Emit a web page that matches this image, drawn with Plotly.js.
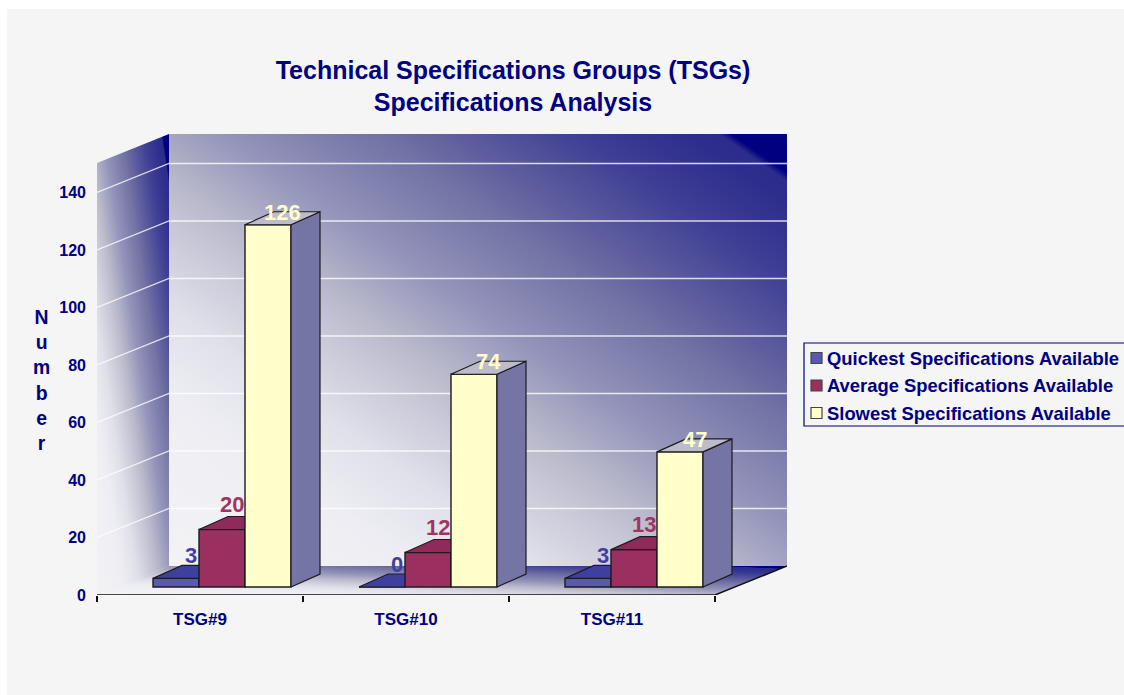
<!DOCTYPE html>
<html><head><meta charset="utf-8">
<script src="https://cdn.plot.ly/plotly-3.0.1.min.js"></script>
<style>html,body{margin:0;padding:0;background:#fff}#chart{width:1124px;height:695px}</style>
</head><body><div id="chart"></div>
<script>
const categories = ['TSG#9', 'TSG#10', 'TSG#11'];
const seriesNames = ['Quickest Specifications Available', 'Average Specifications Available', 'Slowest Specifications Available'];
const quickest = [3, 0, 3];
const average = [20, 12, 13];
const slowest = [126, 74, 47];
const yTicks = [0, 20, 40, 60, 80, 100, 120, 140];
const gridValues = [20, 40, 60, 80, 100, 120, 140];
const seriesValues = [quickest, average, slowest];

const W = 1124, H = 695, FONT = 'Liberation Sans, Arial, sans-serif', NAVY = '#000080';
// frame geometry, in pixels
const X0 = 97, Y0 = 595, CAT = 206, UNIT = 2.875, WALLDX = 72, WALLDY = 29, WALLTOP = 134;
const BACKR = X0 + WALLDX + 3 * CAT;
const xMax = (BACKR - X0) / CAT, yMax = (Y0 - WALLTOP) / UNIT;
const px2x = p => p / CAT, px2y = p => p / UNIT;
// bar geometry
const BARW = 46, BAROFFX = 22, BAROFFY = 8, BARDX = 29, BARDY = 13;
const styles = [
  {front: '#5a5aab', top: '#3f3fa0', side: '#4a4a9c', label: '#3f3fa0', dx: 0, dy: 16},
  {front: '#99305f', top: '#8f2a5b', side: '#7d2550', label: '#a23363', dx: -5, dy: 19},
  {front: '#ffffcc', top: '#bcbccb', side: '#7474a5', label: '#ffffcc', dx: 0, dy: 6}
];

// gradient backdrop
function stops(g) {
  [[0,'#f3f3f6'],[.2,'#ededf3'],[.3,'#e0e0ea'],[.4,'#c6c6d6'],[.45,'#b8b8ca'],[.55,'#9292ba'],[.67,'#7272a4'],
   [.73,'#5e5e9e'],[.83,'#3f3f95'],[.92,'#2d2d8d'],[.945,'#2c2c8c'],[.955,'#000080'],[1,'#000080']]
    .forEach(s => g.addColorStop(s[0], s[1]));
}
function face(ctx, pts) {
  const xs = pts.map(p => p[0]), ys = pts.map(p => p[1]);
  const l = Math.min(...xs), r = Math.max(...xs), t = Math.min(...ys), b = Math.max(...ys);
  const w = r - l, h = b - t, cx = (l + r) / 2, cy = (t + b) / 2, n = Math.hypot(w, h);
  const nx = h / n, ny = -w / n, L = (w / 2 * nx - h / 2 * ny);
  const g = ctx.createLinearGradient(cx - nx * L, cy - ny * L, cx + nx * L, cy + ny * L);
  stops(g);
  ctx.fillStyle = g;
  ctx.beginPath();
  pts.forEach((p, i) => i ? ctx.lineTo(p[0], p[1]) : ctx.moveTo(p[0], p[1]));
  ctx.closePath(); ctx.fill();
}
const cv = document.createElement('canvas'); cv.width = W; cv.height = H;
const c = cv.getContext('2d');
c.fillStyle = '#ffffff'; c.fillRect(0, 0, W, H);
c.fillStyle = '#f5f5f5'; c.fillRect(7, 9, W - 7, H - 9);
const FRONTR = X0 + 3 * CAT, BACKL = X0 + WALLDX, BACKB = Y0 - WALLDY;
face(c, [[BACKL, WALLTOP], [BACKR, WALLTOP], [BACKR, BACKB], [BACKL, BACKB]]);
face(c, [[X0, WALLTOP + WALLDY], [BACKL, WALLTOP], [BACKL, BACKB], [X0, Y0]]);
face(c, [[X0, Y0], [BACKL, BACKB], [BACKR, BACKB], [FRONTR, Y0]]);

const traces = [];
// gridlines on side and back walls
const gx = [], gy = [];
gridValues.forEach(v => {
  gx.push(0, px2x(WALLDX), xMax, null);
  gy.push(v, v + px2y(WALLDY), v + px2y(WALLDY), null);
});
traces.push({type: 'scatter', mode: 'lines', x: gx, y: gy, xaxis: 'x', yaxis: 'y', hoverinfo: 'skip', showlegend: false,
  line: {color: 'rgba(255,255,255,0.8)', width: 1.3}});
// axis baseline and floor edge
traces.push({type: 'scatter', mode: 'lines', x: [0, 3, xMax], y: [0, 0, px2y(WALLDY)], xaxis: 'x', yaxis: 'y', hoverinfo: 'skip', showlegend: false,
  cliponaxis: false, line: {color: '#111', width: 1.5}});

const annotations = [];
seriesValues.forEach((vals, s) => {
  const ax = s === 0 ? 'x' : 'x' + (s + 1), ay = s === 0 ? 'y' : 'y' + (s + 1), st = styles[s];
  const cx = vals.map((v, i) => px2x((i + .5) * CAT + BAROFFX + (s - 1) * BARW));
  const base = px2y(BAROFFY), hw = px2x(BARW / 2), ddx = px2x(BARDX), ddy = px2y(BARDY);
  traces.push({type: 'bar', name: seriesNames[s], x: cx, y: vals, base: vals.map(() => base), width: vals.map(() => px2x(BARW)),
    xaxis: ax, yaxis: ay, showlegend: false, hoverinfo: 'skip',
    marker: {color: st.front, line: {color: '#1c1c1c', width: 1.4}}});
  const tx = [], ty = [], sx = [], sy = [];
  vals.forEach((v, i) => {
    const l = cx[i] - hw, r = cx[i] + hw, top = base + v;
    tx.push(l, r, r + ddx, l + ddx, l, null);
    ty.push(top, top, top + ddy, top + ddy, top, null);
    if (v > 0) {
      sx.push(r, r + ddx, r + ddx, r, r, null);
      sy.push(base, base + ddy, top + ddy, top, base, null);
    }
    annotations.push({x: cx[i] + ddx / 2, y: top + ddy / 2, xref: ax, yref: ay, text: String(v), showarrow: false,
      xshift: st.dx, yshift: st.dy, xanchor: 'center', yanchor: 'middle',
      font: {family: FONT, size: 22, color: st.label, weight: 700}});
  });
  traces.push({type: 'scatter', mode: 'lines', x: sx, y: sy, fill: 'toself', fillcolor: st.side, xaxis: ax, yaxis: ay,
    hoverinfo: 'skip', showlegend: false, line: {color: '#1c1c1c', width: 1.2}});
  traces.push({type: 'scatter', mode: 'lines', x: tx, y: ty, fill: 'toself', fillcolor: st.top, xaxis: ax, yaxis: ay,
    hoverinfo: 'skip', showlegend: false, line: {color: '#1c1c1c', width: 1.2}});
});

const px = p => p / W, py = p => 1 - p / H;
// stacked axis title
annotations.push({xref: 'paper', yref: 'paper', x: px(41), y: py(380), xanchor: 'center', yanchor: 'middle', showarrow: false,
  text: 'N<br>u<br>m<br>b<br>e<br>r', font: {family: FONT, size: 19.4, color: NAVY, weight: 700}});
// legend
const shapes = [{type: 'rect', xref: 'paper', yref: 'paper', x0: px(804), x1: px(1130), y0: py(343), y1: py(426),
  line: {color: NAVY, width: 1.2}, fillcolor: 'rgba(0,0,0,0)'}];
[358, 385.5, 413].forEach((yy, s) => {
  shapes.push({type: 'rect', xref: 'paper', yref: 'paper', x0: px(811), x1: px(822), y0: py(yy - 5.5), y1: py(yy + 5.5),
    line: {color: '#444', width: 1.2}, fillcolor: styles[s].front});
  annotations.push({xref: 'paper', yref: 'paper', x: px(825), y: py(yy), xanchor: 'left', yanchor: 'middle', showarrow: false,
    text: seriesNames[s], font: {family: FONT, size: 18.4, color: NAVY, weight: 700}});
});

const hidden = {visible: false, fixedrange: true};
const layout = {
  width: W, height: H, margin: {l: 0, r: 0, t: 0, b: 0}, paper_bgcolor: '#f5f5f5', plot_bgcolor: 'rgba(0,0,0,0)',
  showlegend: false, barmode: 'overlay', shapes, annotations,
  title: {text: 'Technical Specifications Groups (TSGs)<br>Specifications Analysis', x: 513 / W, xanchor: 'center',
    y: py(78.5), yanchor: 'middle', font: {family: FONT, size: 25, color: NAVY, weight: 700}},
  images: [{source: cv.toDataURL('image/png'), xref: 'paper', yref: 'paper', x: 0, y: 1, sizex: 1, sizey: 1,
    sizing: 'stretch', xanchor: 'left', yanchor: 'top', layer: 'below'}],
  xaxis: {domain: [X0 / W, BACKR / W], range: [0, xMax], showgrid: false, zeroline: false, showline: false, ticks: '',
    tickmode: 'array', tickvals: categories.map((_, i) => i + .5), ticktext: categories, ticklabelstandoff: 12,
    tickfont: {family: FONT, size: 17, color: NAVY, weight: 700},
    minor: {tickmode: 'array', tickvals: [0, 1, 2, 3], ticks: 'outside', ticklen: 6, tickcolor: '#111', tickwidth: 1.4, showgrid: false}},
  yaxis: {domain: [1 - Y0 / H, 1 - WALLTOP / H], range: [0, yMax], showgrid: false, zeroline: false, showline: false, ticks: '',
    tickmode: 'array', tickvals: yTicks, ticklabelstandoff: 10, tickfont: {family: FONT, size: 16, color: NAVY, weight: 700}},
  xaxis2: Object.assign({overlaying: 'x', matches: 'x', anchor: 'y2'}, hidden),
  yaxis2: Object.assign({overlaying: 'y', matches: 'y', anchor: 'x2'}, hidden),
  xaxis3: Object.assign({overlaying: 'x', matches: 'x', anchor: 'y3'}, hidden),
  yaxis3: Object.assign({overlaying: 'y', matches: 'y', anchor: 'x3'}, hidden)
};
Plotly.newPlot('chart', traces, layout, {displayModeBar: false, staticPlot: true});
</script></body></html>
